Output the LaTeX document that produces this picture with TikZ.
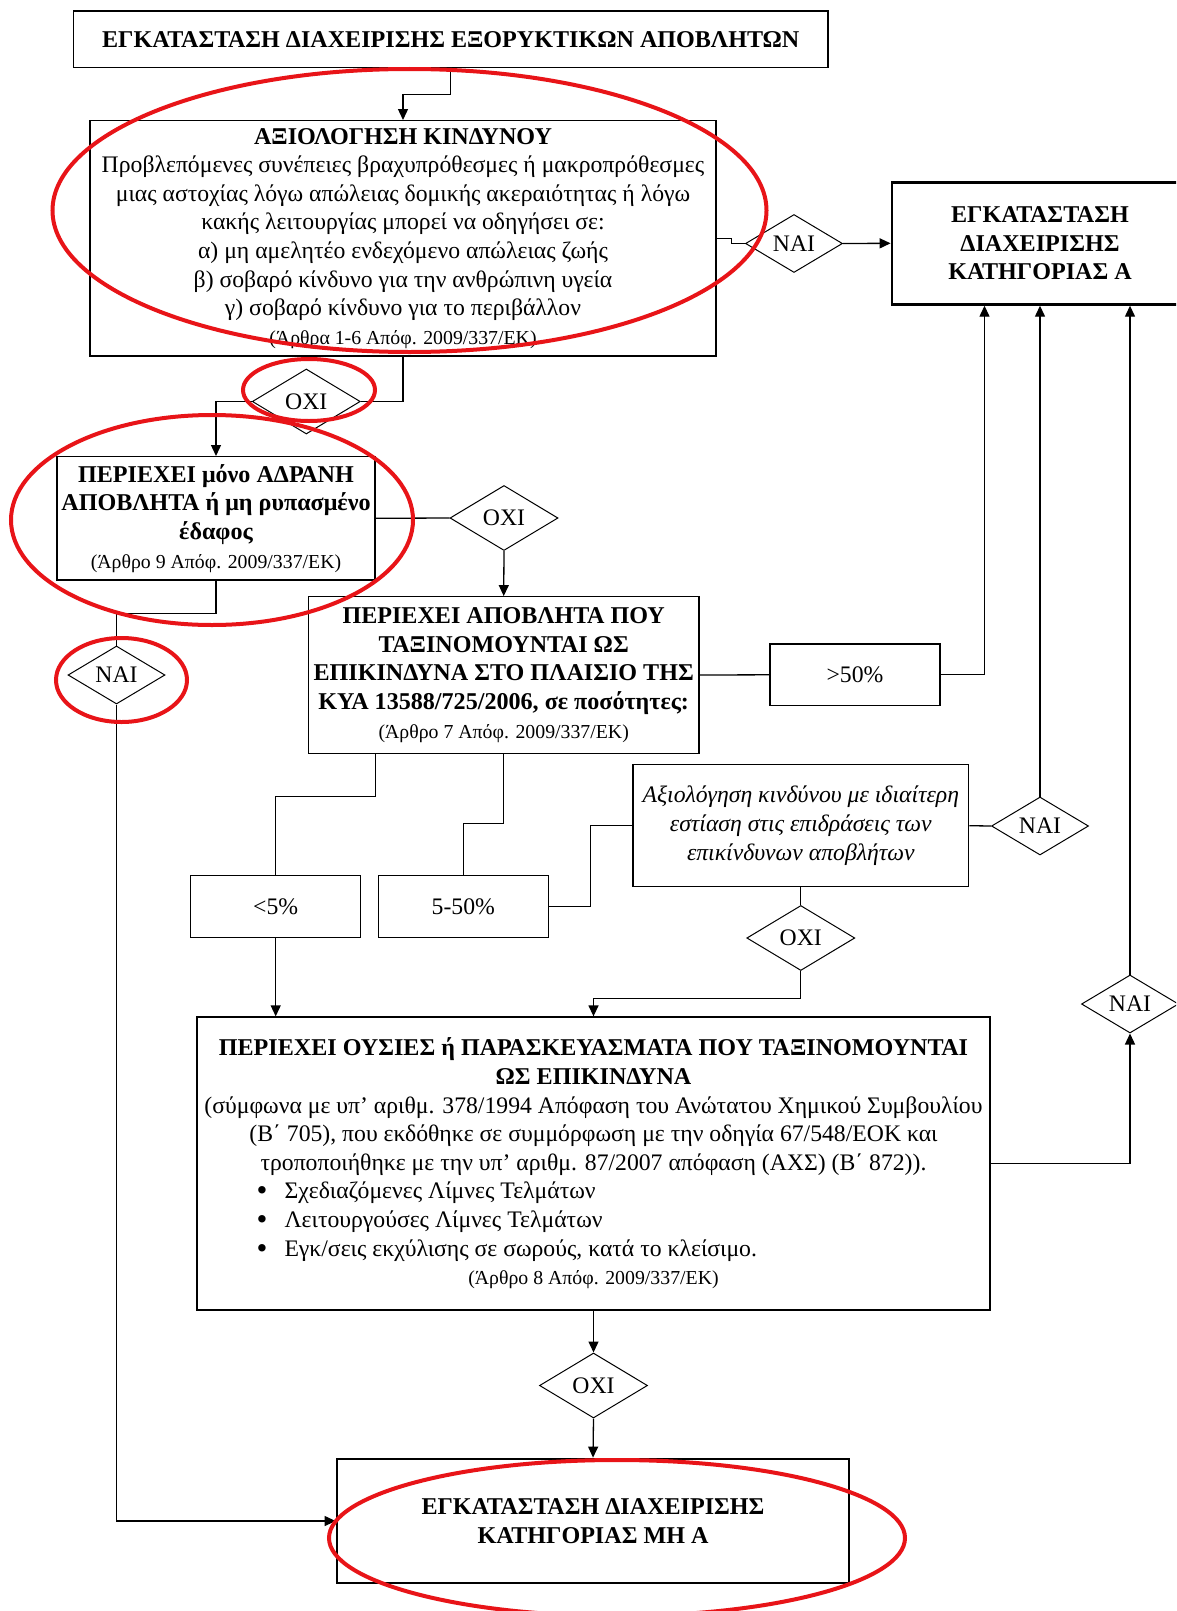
\documentclass[tikz,border=0pt]{standalone}
\usepackage{fontspec}
\setmainfont{Liberation Serif}
\usetikzlibrary{arrows.meta,shapes.geometric,calc}

\newcommand\fbody{\fontsize{23.7}{28.6}\selectfont}
\newcommand\fbold{\fontsize{24.1}{28.6}\selectfont\bfseries}
\newcommand\fref{\fontsize{19.8}{28.6}\selectfont}
\newcommand\bigdot{\raisebox{-2pt}{\fontsize{31}{28}\selectfont •}}
\newcommand\bul[1]{\makebox[672pt][l]{\makebox[27pt][l]{\hspace*{-1pt}\bigdot}#1}}

\tikzset{
  box/.style={draw, line width=1.3pt, rectangle, inner sep=0pt, align=center, font=\fbody},
  heavybox/.style={box, line width=2.8pt},
  choice/.style={draw, line width=1pt, diamond, inner sep=0pt, font=\fbody},
  yesdia/.style={choice, minimum width=97pt, minimum height=58pt},
  nodia/.style={choice, minimum width=108pt, minimum height=65pt},
  link/.style={line width=1.3pt},
  arrow/.style={link, -{Triangle[length=11pt,width=10pt]}},
  redring/.style={draw={rgb,255:red,232;green,20;blue,24}, line width=4pt}
}

\begin{document}
\begin{tikzpicture}[x=1pt,y=-1pt]
\useasboundingbox (0,0) rectangle (1176,1611);
\fill[white] (0,0) rectangle (1176,1611);
\clip (0,0) rectangle (1176,1611);

% boxes
\node[box, minimum width=754.5pt, minimum height=56.5pt] (top) at (450.75,39.25)
  {\fbold ΕΓΚΑΤΑΣΤΑΣΗ ΔΙΑΧΕΙΡΙΣΗΣ ΕΞΟΡΥΚΤΙΚΩΝ ΑΠΟΒΛΗΤΩΝ};

\node[box, minimum width=626pt, minimum height=235.3pt] (risk) at (403,238.3)
  {{\fbold ΑΞΙΟΛΟΓΗΣΗ ΚΙΝΔΥΝΟΥ}\\
   Προβλεπόμενες συνέπειες βραχυπρόθεσμες ή μακροπρόθεσμες\\
   μιας αστοχίας λόγω απώλειας δομικής ακεραιότητας ή λόγω\\
   κακής λειτουργίας μπορεί να οδηγήσει σε:\\
   α) μη αμελητέο ενδεχόμενο απώλειας ζωής\\
   β) σοβαρό κίνδυνο για την ανθρώπινη υγεία\\
   γ) σοβαρό κίνδυνο για το περιβάλλον\\
   {\fref (Άρθρα 1-6 Απόφ. 2009/337/ΕΚ)}};

\node[heavybox, minimum width=296pt, minimum height=122pt] (catA) at (1040,243.3)
  {\fbold ΕΓΚΑΤΑΣΤΑΣΗ\\ \fbold ΔΙΑΧΕΙΡΙΣΗΣ\\ \fbold ΚΑΤΗΓΟΡΙΑΣ Α};

\node[box, minimum width=318pt, minimum height=123.3pt] (inert) at (216,518.3)
  {{\fbold ΠΕΡΙΕΧΕΙ μόνο ΑΔΡΑΝΗ}\\
   {\fbold ΑΠΟΒΛΗΤΑ ή μη ρυπασμένο}\\
   {\fbold έδαφος}\\
   {\fref (Άρθρο 9 Απόφ. 2009/337/ΕΚ)}};

\node[box, minimum width=390.5pt, minimum height=156.6pt] (haz) at (503.7,675)
  {{\fbold ΠΕΡΙΕΧΕΙ ΑΠΟΒΛΗΤΑ ΠΟΥ}\\
   {\fbold ΤΑΞΙΝΟΜΟΥΝΤΑΙ ΩΣ}\\
   {\fbold ΕΠΙΚΙΝΔΥΝΑ ΣΤΟ ΠΛΑΙΣΙΟ ΤΗΣ}\\
   {\fbold ΚΥΑ 13588/725/2006, σε ποσότητες:}\\
   {\fref (Άρθρο 7 Απόφ. 2009/337/ΕΚ)}};

\node[box, minimum width=170pt, minimum height=61.7pt] (gt50) at (855,674.8) {>50\%};

\node[box, minimum width=335.6pt, minimum height=122pt] (focus) at (800.8,825.7)
  {\itshape Αξιολόγηση κινδύνου με ιδιαίτερη\\
   \itshape εστίαση στις επιδράσεις των\\
   \itshape επικίνδυνων αποβλήτων};

\node[box, minimum width=170pt, minimum height=62pt] (lt5) at (275.7,906.7) {<5\%};
\node[box, minimum width=170pt, minimum height=62pt] (mid) at (463.3,906.7) {5-50\%};

\node[box, minimum width=793pt, minimum height=293pt] (subst) at (593.5,1163.5)
  {{\fbold ΠΕΡΙΕΧΕΙ ΟΥΣΙΕΣ ή ΠΑΡΑΣΚΕΥΑΣΜΑΤΑ ΠΟΥ ΤΑΞΙΝΟΜΟΥΝΤΑΙ}\\
   {\fbold ΩΣ ΕΠΙΚΙΝΔΥΝΑ}\\
   (σύμφωνα με υπ’ αριθμ. 378/1994 Απόφαση του Ανώτατου Χημικού Συμβουλίου\\
   (Β΄ 705), που εκδόθηκε σε συμμόρφωση με την οδηγία 67/548/ΕΟΚ και\\
   τροποποιήθηκε με την υπ’ αριθμ. 87/2007 απόφαση (ΑΧΣ) (Β΄ 872)).\\
   \bul{Σχεδιαζόμενες Λίμνες Τελμάτων}\\
   \bul{Λειτουργούσες Λίμνες Τελμάτων}\\
   \bul{Εγκ/σεις εκχύλισης σε σωρούς, κατά το κλείσιμο.}\\
   {\fref (Άρθρο 8 Απόφ. 2009/337/ΕΚ)}};

\node[heavybox, minimum width=512pt, minimum height=124pt] (nonA) at (593,1521)
  {\fbold ΕΓΚΑΤΑΣΤΑΣΗ ΔΙΑΧΕΙΡΙΣΗΣ\\ \fbold ΚΑΤΗΓΟΡΙΑΣ ΜΗ Α};

% decisions
\node[yesdia] (nai1) at (794,243.5) {ΝΑΙ};
\node[nodia]  (oxi1) at (306.3,401.5) {ΟΧΙ};
\node[nodia]  (oxi2) at (504,518) {ΟΧΙ};
\node[yesdia] (nai2) at (116.5,675) {ΝΑΙ};
\node[yesdia] (nai3) at (1040,826) {ΝΑΙ};
\node[nodia]  (oxi3) at (800.8,938) {ΟΧΙ};
\node[yesdia] (nai4) at (1130,1004) {ΝΑΙ};
\node[nodia]  (oxi4) at (593.5,1385.5) {ΟΧΙ};

% connectors
\draw[arrow] (top.south) -- ++(0,26.5) -| (risk.north);
\draw[link] (risk.east) -- ++(15,0) |- (nai1.west);
\draw[arrow] (nai1.east) -- (catA.west);
\draw[link] (risk.south) |- (oxi1.east);
\draw[arrow] (oxi1.west) -| (inert.north);
\draw[link] (inert.east) -- (oxi2.west);
\draw[arrow] (oxi2.south) -- (haz.north);
\draw[link] (inert.south) -- ++(0,33) -| (nai2.north);
\draw[arrow] (nai2.south) |- (nonA.west);
\draw[link] (haz.east) -- (gt50.west);
\draw[arrow] (gt50.east) -| ([xshift=-55.5pt]catA.south);
\draw[link] ([xshift=-128.4pt]haz.south) -- ++(0,42.4) -| (lt5.north);
\draw[arrow] (lt5.south) -- (lt5.south |- subst.north);
\draw[link] (haz.south) -- ++(0,69.4) -| (mid.north);
\draw[link] (mid.east) -- ++(41.4,0) |- (focus.west);
\draw[link] (focus.east) -- (nai3.west);
\draw[arrow] (nai3.north) -- (catA.south);
\draw[link] (focus.south) -- (oxi3.north);
\draw[arrow] (oxi3.south) -- ++(0,27.3) -| (subst.north);
\draw[arrow] (subst.east) -| (nai4.south);
\draw[arrow] (nai4.north) -- (nai4.north |- catA.south);
\draw[arrow] (subst.south) -- (oxi4.north);
\draw[arrow] (oxi4.south) -- (nonA.north);

% red highlight rings
\draw[redring] (409.5,210.5) ellipse [x radius=357, y radius=141.5];
\draw[redring] (309,390) ellipse [x radius=66, y radius=31];
\draw[redring] (212,520) ellipse [x radius=201, y radius=105];
\draw[redring] (121.5,680) ellipse [x radius=65.5, y radius=42];
\draw[redring] (617,1538) ellipse [x radius=288, y radius=78];
\end{tikzpicture}
\end{document}
